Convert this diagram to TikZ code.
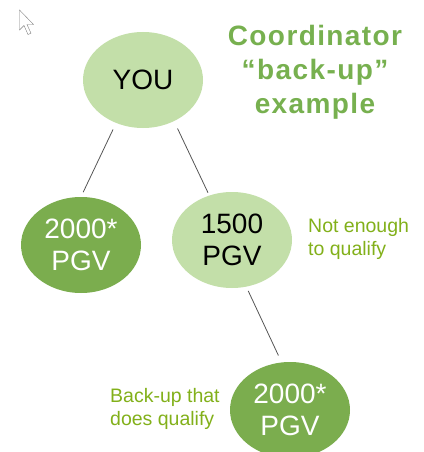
\documentclass[tikz,border=0pt]{standalone}
\usepackage{fontspec}
\setmainfont{Liberation Sans}
\usetikzlibrary{shapes.geometric}

\definecolor{titlegreen}{HTML}{77B04F}
\definecolor{notegreen}{HTML}{82B01A}
\definecolor{darkleaf}{HTML}{7BAD4E}
\definecolor{lightleaf}{HTML}{C3DFA9}
\definecolor{linegray}{HTML}{555555}

\tikzset{
  member/.style={ellipse, minimum width=120pt, minimum height=96pt, inner sep=0pt,
                 align=center, font=\fontsize{28}{32}\selectfont},
  qualified/.style={member, fill=darkleaf, text=white},
  short/.style={member, fill=lightleaf, text=black},
  heading/.style={text=titlegreen, align=center, inner sep=0pt,
                  font=\fontsize{28}{34}\selectfont\bfseries\addfontfeature{LetterSpace=5}},
  note/.style={text=notegreen, align=left, inner sep=0pt, anchor=north west,
               font=\fontsize{19.5}{23}\selectfont},
  link/.style={draw=linegray, line width=0.8pt}
}

\begin{document}
\begin{tikzpicture}[x=1pt, y=-1pt]

\useasboundingbox (0,0) rectangle (423,452);

\draw [fill=white, draw=gray] (19.5,10) -- ++(0,20) -- ++(4.5,-4.5) -- ++(4,9) -- ++(3,-1.3)
                      -- ++(-4,-8.7) -- ++(6.5,0) -- cycle;

\node [short] (you) at (143,80) {YOU};
\node [qualified] (left) at (81,245) {2000*\\PGV};
\node [short] (middle) at (232,240) {1500\\PGV};
\node [qualified] (backup) at (290,410) {2000*\\PGV};

\node [heading] (title) at (315,72) {Coordinator\\“back-up”\\example};
\node [note] (notenough) at (308,218) {Not enough\\to qualify};
\node [note] (doesqualify) at (110,388) {Back-up that\\does qualify};

\draw [link, shorten <=7pt, shorten >=5pt] (you.238) -- (left.north);
\draw [link, shorten <=8pt, shorten >=3pt] (you.307) -- (middle.117);
\draw [link, shorten <=4.5pt, shorten >=7.5pt] (middle.287) -- (backup.100);

\end{tikzpicture}
\end{document}
